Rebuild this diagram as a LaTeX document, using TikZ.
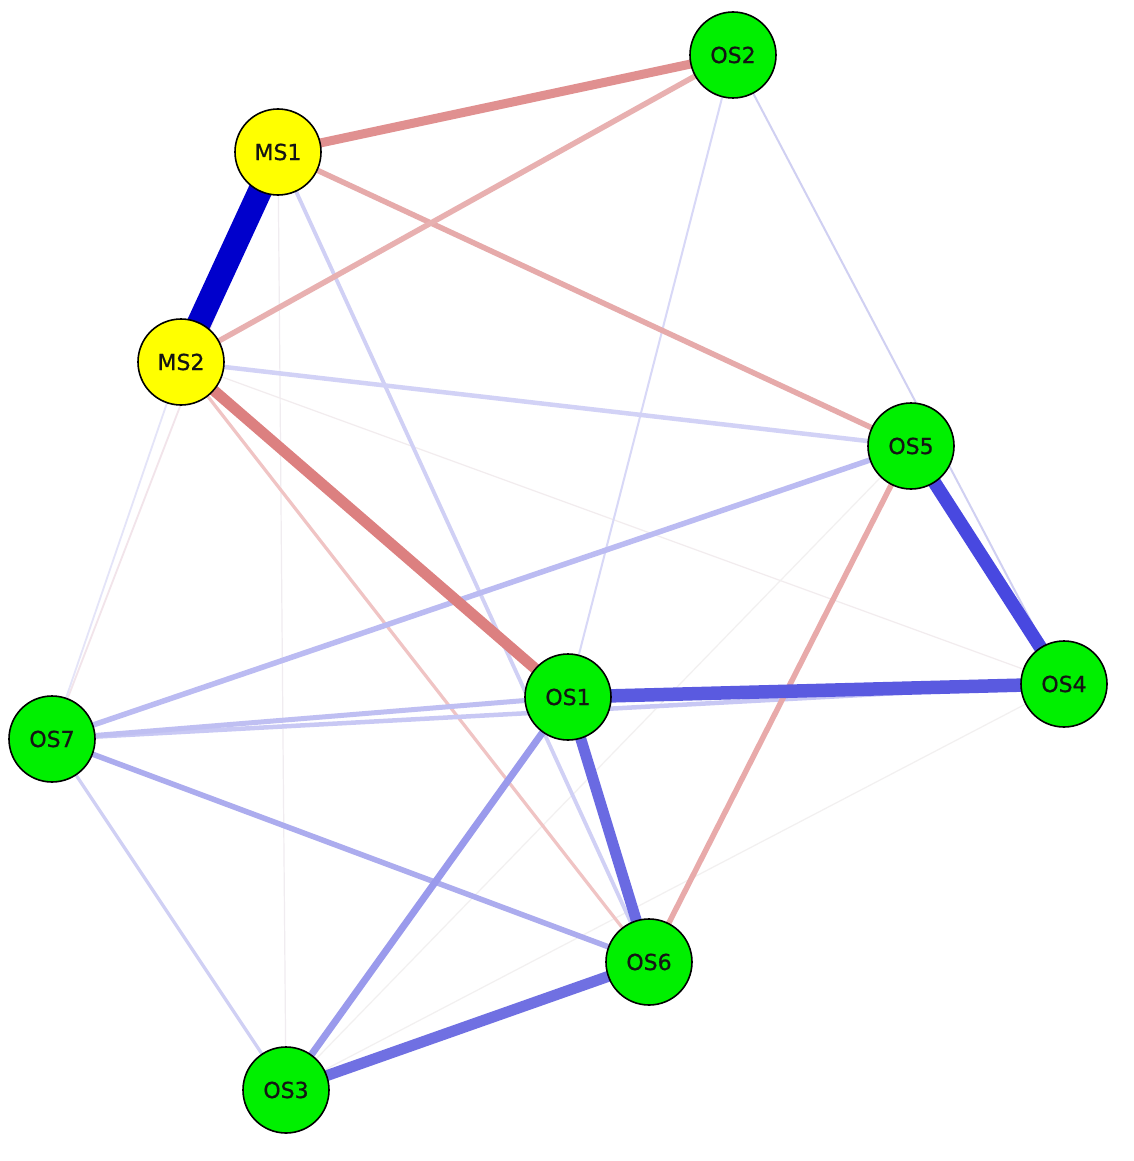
\documentclass[tikz,border=0pt]{standalone}
\usepackage{fontspec}
\setmainfont{DejaVu Sans}
\newfontfamily\nodefont[FakeBold=0.7]{DejaVu Sans}
\definecolor{ngreen}{RGB}{0,240,0}
\definecolor{nyellow}{RGB}{255,255,0}
\definecolor{txt}{RGB}{20,20,20}
\tikzset{
  vnode/.style={circle, draw=black, line width=1.6pt, minimum size=86pt, inner sep=0pt,
    font=\nodefont\fontsize{22}{22}\selectfont, text=txt},
  osnode/.style={vnode, fill=ngreen},
  msnode/.style={vnode, fill=nyellow},
  edge/.style={line cap=butt},
}
\begin{document}
\begin{tikzpicture}[x=1pt,y=-1pt]
\fill[white] (0,0) rectangle (1134,1161);
\useasboundingbox (0,0) rectangle (1134,1161);

% node positions
\coordinate (pOS2) at (733,55);
\coordinate (pMS1) at (278,152);
\coordinate (pMS2) at (181,362);
\coordinate (pOS5) at (911,446);
\coordinate (pOS4) at (1064,684);
\coordinate (pOS1) at (568,697);
\coordinate (pOS7) at (52,739);
\coordinate (pOS6) at (649,962);
\coordinate (pOS3) at (286,1090);

% faint edges
\draw[edge, line width=1.2pt, color={rgb,255:red,240;green,236;blue,240}] (pMS1) -- (pOS3);
\draw[edge, line width=1.2pt, color={rgb,255:red,242;green,236;blue,238}] (pMS2) -- (pOS4);
\draw[edge, line width=1.2pt, color={rgb,255:red,242;green,240;blue,240}] (pOS3) -- (pOS5);
\draw[edge, line width=1.2pt, color={rgb,255:red,242;green,240;blue,240}] (pOS3) -- (pOS4);
\draw[edge, line width=1.8pt, color={rgb,255:red,242;green,228;blue,234}] (pMS1) -- (pOS7);
\draw[edge, line width=1.8pt, color={rgb,255:red,228;green,228;blue,248}] (pMS2) -- (pOS7);

% light edges
\draw[edge, line width=2pt, color={rgb,255:red,216;green,216;blue,247}] (pOS2) -- (pOS1);
\draw[edge, line width=2pt, color={rgb,255:red,208;green,208;blue,242}] (pOS2) -- (pOS4);
\draw[edge, line width=3.2pt, color={rgb,255:red,208;green,208;blue,244}] (pOS7) -- (pOS3);
\draw[edge, line width=3.2pt, color={rgb,255:red,240;green,196;blue,196}] (pMS2) -- (pOS6);
\draw[edge, line width=3.8pt, color={rgb,255:red,208;green,208;blue,245}] (pMS1) -- (pOS6);
\draw[edge, line width=4.5pt, color={rgb,255:red,210;green,210;blue,246}] (pMS2) -- (pOS5);
\draw[edge, line width=4.5pt, color={rgb,255:red,200;green,200;blue,244}] (pOS7) -- (pOS4);
\draw[edge, line width=5pt, color={rgb,255:red,191;green,191;blue,242}] (pOS7) -- (pOS1);
\draw[edge, line width=5.5pt, color={rgb,255:red,187;green,187;blue,242}] (pOS7) -- (pOS5);
\draw[edge, line width=5.5pt, color={rgb,255:red,172;green,172;blue,238}] (pOS7) -- (pOS6);
\draw[edge, line width=5.5pt, color={rgb,255:red,230;green,170;blue,170}] (pMS1) -- (pOS5);
\draw[edge, line width=5.5pt, color={rgb,255:red,232;green,176;blue,176}] (pMS2) -- (pOS2);
\draw[edge, line width=5.5pt, color={rgb,255:red,232;green,170;blue,170}] (pOS5) -- (pOS6);

% stronger edges
\draw[edge, line width=7pt, color={rgb,255:red,154;green,154;blue,236}] (pOS1) -- (pOS3);
\draw[edge, line width=9pt, color={rgb,255:red,224;green,144;blue,144}] (pMS1) -- (pOS2);
\draw[edge, line width=11pt, color={rgb,255:red,220;green,128;blue,128}] (pMS2) -- (pOS1);
\draw[edge, line width=11pt, color={rgb,255:red,112;green,112;blue,226}] (pOS6) -- (pOS3);
\draw[edge, line width=11pt, color={rgb,255:red,106;green,106;blue,226}] (pOS1) -- (pOS6);
\draw[edge, line width=13.5pt, color={rgb,255:red,90;green,90;blue,224}] (pOS1) -- (pOS4);
\draw[edge, line width=13.5pt, color={rgb,255:red,72;green,72;blue,224}] (pOS5) -- (pOS4);
\draw[edge, line width=24pt, color={rgb,255:red,0;green,0;blue,204}] (pMS1) -- (pMS2);

% nodes
\node[osnode] (OS2) at (pOS2) {OS2};
\node[msnode] (MS1) at (pMS1) {MS1};
\node[msnode] (MS2) at (pMS2) {MS2};
\node[osnode] (OS5) at (pOS5) {OS5};
\node[osnode] (OS4) at (pOS4) {OS4};
\node[osnode] (OS1) at (pOS1) {OS1};
\node[osnode] (OS7) at (pOS7) {OS7};
\node[osnode] (OS6) at (pOS6) {OS6};
\node[osnode] (OS3) at (pOS3) {OS3};
\end{tikzpicture}
\end{document}
